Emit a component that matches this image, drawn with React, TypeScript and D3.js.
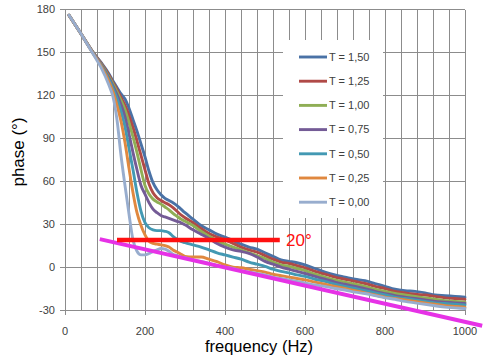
import React from "react";
import * as d3 from "d3";

const freqs = [10, 40, 70, 90, 110, 120, 130, 140, 150, 160, 170, 180, 190, 200, 210, 220, 230, 240, 250, 260, 270, 280, 290, 300, 320, 340, 360, 380, 400, 420, 440, 460, 480, 500, 520, 540, 560, 580, 600, 625, 650, 675, 700, 725, 750, 775, 800, 825, 850, 875, 900, 925, 950, 975, 1000];

const t150 = [176, 163, 150, 143, 135, 130, 125.5, 121, 117.5, 111, 103, 95, 86, 77, 67, 59, 54, 50.5, 48, 46.5, 45, 43, 40.5, 38, 33.5, 29, 26, 23, 21, 18.5, 16, 14, 12.5, 10, 7.5, 5, 4, 3, 1.5, -1, -3.5, -5.5, -7, -8.5, -9.5, -11.5, -13.5, -15.5, -16.5, -17, -18, -19.5, -20, -20.5, -21];
const t125 = [176, 163, 150, 142.5, 134, 129, 124, 118.5, 113, 106, 97.5, 88, 78, 68, 58, 52, 48.5, 46.5, 45, 43.5, 41.5, 39, 36.5, 34.5, 31, 27, 23.5, 21, 19, 16.5, 14, 12, 10.5, 8, 5.5, 3.5, 2.5, 1, -0.5, -3, -5, -7, -8.5, -10, -11.5, -13.5, -15, -17, -18, -19, -19.5, -20.5, -21.5, -22, -22.5];
const t100 = [176, 163, 150, 142, 133, 128, 122.5, 116.5, 110, 101, 91, 80, 68, 57, 51, 47.5, 45.5, 44, 42, 40, 37.5, 35.5, 33.5, 32, 29, 25, 21.5, 18.5, 16, 14, 12, 10, 8, 6, 3.5, 1.5, 0.5, -1, -2.5, -5, -7, -9, -10.5, -12, -13.5, -15.5, -17, -18.5, -19.5, -20.5, -21.5, -22.5, -23.5, -24, -24.5];
const t075 = [176, 163, 150, 141.5, 132, 126.5, 120.5, 113.5, 105, 93, 80, 68, 57, 51, 45, 40.5, 38, 36, 35, 34, 33, 32, 31, 29.5, 26, 23, 20, 16.5, 14, 12, 11, 9.5, 7, 4, 2, 0, -1.5, -3, -4.5, -6.5, -8.5, -10.5, -12, -13.5, -15, -17, -18.5, -20, -21, -22, -23, -24, -24.5, -25, -25.5];
const t050 = [176, 163, 149.5, 141, 131, 125, 118, 109, 98, 83, 68, 52, 39, 31, 27.5, 26, 25.5, 25.5, 25, 24, 21.5, 19.5, 18, 17, 15.5, 14, 12, 10, 8.5, 7, 5.5, 3.5, 2, 0.5, -1.5, -3, -4, -5.5, -6.5, -8.5, -10, -12, -13.5, -15, -16.5, -18, -19.5, -21, -22, -23, -24, -25, -25.5, -26, -26.5];
const t025 = [176, 163, 149.5, 140.5, 129.5, 122.5, 113, 102, 87, 69, 52, 38, 29, 22.5, 18, 16.5, 16, 15.5, 15, 14, 12, 10.5, 9, 7.5, 7, 7, 5.5, 3.8, 1.5, 0, -0.5, -1.5, -2.5, -3.5, -5, -6, -7, -8, -9, -10.5, -12, -13.5, -15, -16.5, -18, -19.5, -21, -22, -23, -24, -25, -26, -27, -27.5, -28];
const t000 = [176, 163, 149, 139.5, 127, 119, 103, 78, 57, 37, 19, 11, 8.5, 8.5, 9.5, 11, 12, 13, 12.5, 11, 9, 8, 7, 6.5, 5, 4, 2.5, 1, 0, -1, -2.5, -3.5, -4.5, -5.5, -7, -8, -9, -10, -11, -12.5, -13.5, -15, -16, -17.5, -18.5, -20, -21.5, -22.5, -24, -25, -26, -27, -28, -28.5, -29];

const seriesNames = ["T = 1,50", "T = 1,25", "T = 1,00", "T = 0,75", "T = 0,50", "T = 0,25", "T = 0,00"];
const seriesValues = [t150, t125, t100, t075, t050, t025, t000];
const seriesColors = ["#4A72A6", "#B04A47", "#8FAE55", "#745B96", "#4399B3", "#E0883F", "#98ADCE"];

const xTicks = [0, 200, 400, 600, 800, 1000];
const yTicks = [-30, 0, 30, 60, 90, 120, 150, 180];

const redLineFreq = [130, 537];
const redLinePhase = 19;
const magentaFreq = [87, 1043];
const magentaPhase = [19.5, -41];

export default function App() {
  const W = 488, H = 355;
  const x = d3.scaleLinear().domain([0, 1000]).range([65, 465]);
  const y = d3.scaleLinear().domain([-30, 180]).range([310, 9.5]);
  const line = d3
    .line<[number, number]>()
    .x((d) => x(d[0]))
    .y((d) => y(d[1]))
    .curve(d3.curveMonotoneX);

  const vGrid = d3.range(0, 1001, 40);
  const font = "'Liberation Sans', Arial, sans-serif";

  return (
    <svg width={W} height={H} style={{ position: "absolute", left: 0, top: 0, background: "#fff" }}>
      <rect x={0} y={0} width={W} height={H} fill="#fff" />
      <g stroke="#8c8c8c" strokeWidth={1} shapeRendering="crispEdges">
        {vGrid.map((v) => (
          <line key={"v" + v} x1={x(v)} x2={x(v)} y1={y(180)} y2={y(-30)} />
        ))}
        {yTicks.map((v) => (
          <line key={"h" + v} x1={x(0) - 5} x2={x(1000)} y1={y(v)} y2={y(v)} />
        ))}
        {xTicks.map((v) => (
          <line key={"t" + v} x1={x(v)} x2={x(v)} y1={y(-30)} y2={y(-30) + 5} />
        ))}
      </g>
      <g fontFamily={font} fontSize={11} fill="#404040">
        {yTicks.map((v) => (
          <text key={"yl" + v} x={55} y={y(v)} dy="0.35em" textAnchor="end">
            {v}
          </text>
        ))}
        {xTicks.map((v) => (
          <text key={"xl" + v} x={x(v)} y={335} textAnchor="middle">
            {v}
          </text>
        ))}
      </g>
      <g fill="none" strokeWidth={2.9} strokeLinejoin="round" strokeLinecap="round">
        {seriesValues.map((vals, i) => (
          <path
            key={seriesNames[i]}
            d={line(freqs.map((f, j) => [f, vals[j]] as [number, number])) || ""}
            stroke={seriesColors[i]}
          />
        ))}
      </g>
      <line
        x1={x(magentaFreq[0])}
        y1={y(magentaPhase[0])}
        x2={x(magentaFreq[1])}
        y2={y(magentaPhase[1])}
        stroke="#E632E6"
        strokeWidth={4}
      />
      <line
        x1={x(redLineFreq[0])}
        y1={y(redLinePhase)}
        x2={x(redLineFreq[1])}
        y2={y(redLinePhase)}
        stroke="#FF1010"
        strokeWidth={4.5}
      />
      <text x={286} y={246} fontFamily={font} fontSize={17} fill="#FF1010">
        20°
      </text>
      <rect x={283} y={40} width={100} height={178} fill="#fff" />
      <g fontFamily={font} fontSize={11} fill="#404040">
        {seriesNames.map((n, i) => (
          <g key={n} transform={`translate(0, ${57 + i * 24.2})`}>
            <line x1={299} x2={327} y1={0} y2={0} stroke={seriesColors[i]} strokeWidth={2.9} />
            <text x={329} y={0} dy="0.35em">
              {n}
            </text>
          </g>
        ))}
      </g>
      <text
        transform={`translate(24, 152) rotate(-90)`}
        textAnchor="middle"
        fontFamily={font}
        fontSize={17}
        fill="#000"
      >
        phase (°)
      </text>
      <text x={259} y={352} textAnchor="middle" fontFamily={font} fontSize={16.5} fill="#000">
        frequency (Hz)
      </text>
    </svg>
  );
}
